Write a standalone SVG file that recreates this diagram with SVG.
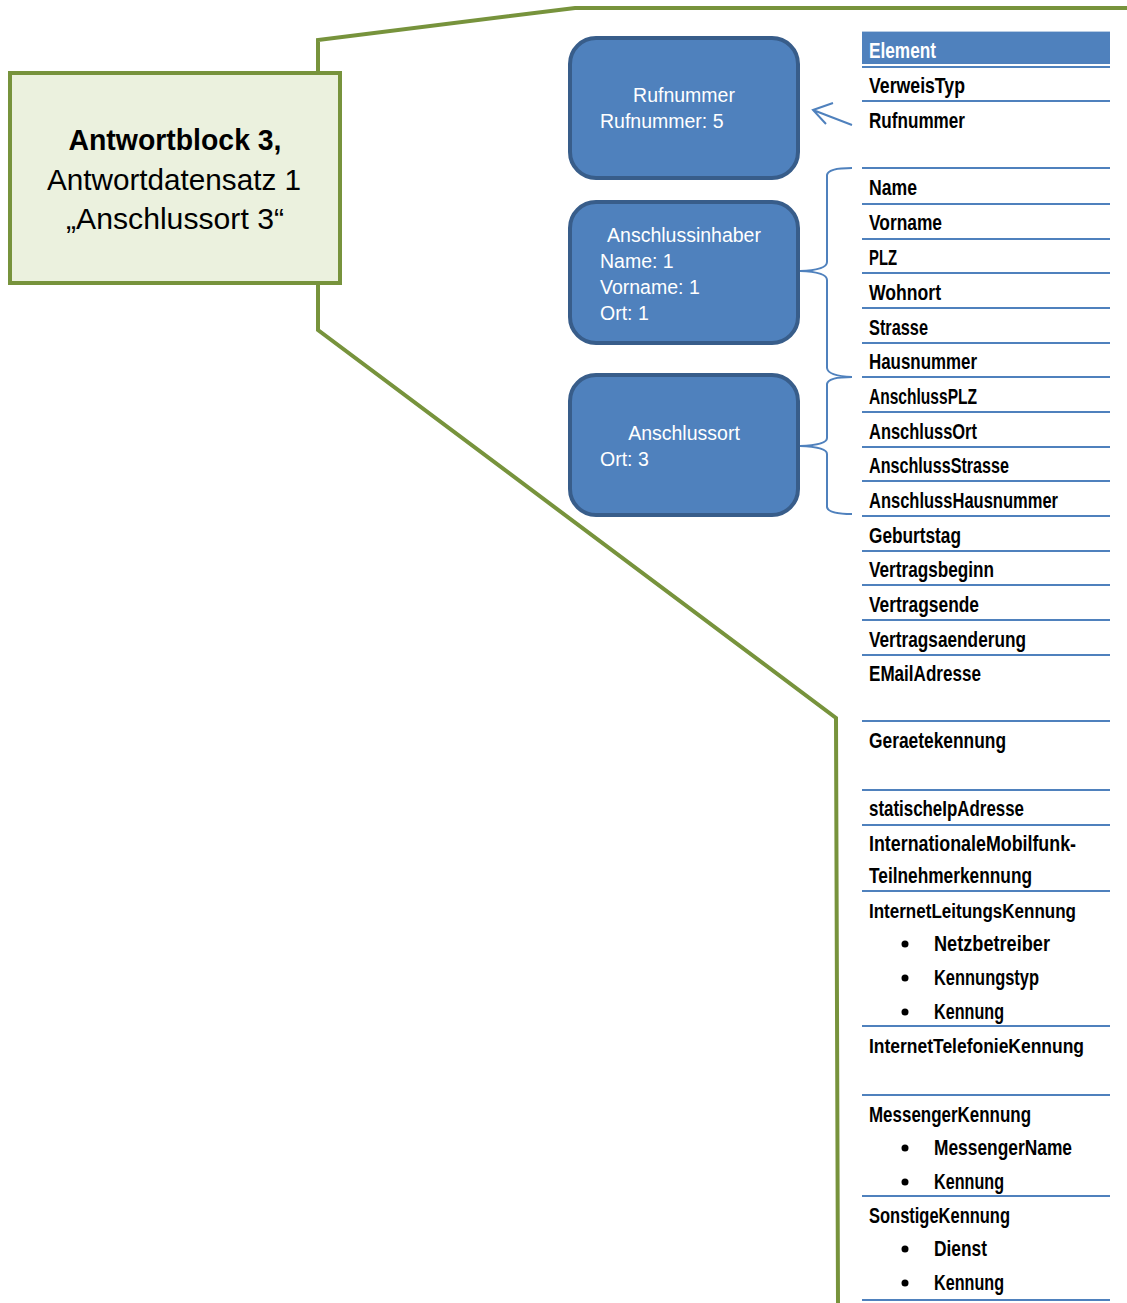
<svg xmlns="http://www.w3.org/2000/svg" width="1127" height="1303" viewBox="0 0 1127 1303">
  <style>
    .frame { fill: none; stroke: #77933C; stroke-width: 4; stroke-linejoin: miter; }
    .block { fill: #EBF1DE; stroke: #77933C; stroke-width: 4; }
    .blocktxt { font-family: "Liberation Sans", Arial, sans-serif; font-size: 29px; fill: #000; text-anchor: middle; }
    .node { fill: #4F81BD; stroke: #385D8A; stroke-width: 4; }
    .ntxt { font-family: "Liberation Sans", Arial, sans-serif; font-size: 19.5px; fill: #fff; }
    .mid { text-anchor: middle; }
    .brace { fill: none; stroke: #4F81BD; stroke-width: 2; }
    .rule { stroke: #4F81BD; stroke-width: 2; }
    .rule2 { stroke: #B8CCE4; stroke-width: 1; }
    .cell { font-family: "Liberation Sans", Arial, sans-serif; font-weight: bold; font-size: 21.5px; fill: #000; }
    .long { font-size: 20px; }
    .head { font-family: "Liberation Sans", Arial, sans-serif; font-weight: bold; font-size: 21.5px; fill: #fff; }
    .dot { fill: #000; }
  </style>

  <!-- zoom frame lines from the answer block to the element table -->
  <g id="connectors">
    <polyline class="frame" points="318,73 318,40 575,8 1127,8"/>
    <polyline class="frame" points="318,283 318,330 836,718 838,1303"/>
    <!-- brace for the holder fields -->
    <path class="brace" d="M852,168 Q828,168 827,175 L827,262 Q827,270 800,271 Q827,272 827,280 L827,368 Q828,376 852,377"/>
    <!-- brace for the location fields -->
    <path class="brace" d="M852,377 Q828,377 827,384 L827,438 Q827,445 800,446 Q827,447 827,454 L827,507 Q828,514 852,514"/>
    <!-- arrow to the phone number node -->
    <path class="brace" d="M852,125 L813,110 M833,103 L813,110 L826,124"/>
  </g>

  <g id="block">
    <rect class="block" x="10" y="73" width="330" height="210"/>
    <text class="blocktxt" x="175" y="150" font-weight="bold" textLength="213" lengthAdjust="spacingAndGlyphs">Antwortblock 3,</text>
    <text class="blocktxt" x="174" y="190" textLength="254" lengthAdjust="spacingAndGlyphs">Antwortdatensatz 1</text>
    <text class="blocktxt" x="175" y="229" textLength="218" lengthAdjust="spacingAndGlyphs">„Anschlussort 3“</text>
  </g>

  <g id="node-rufnummer">
    <rect class="node" x="570" y="38" width="228" height="140" rx="26"/>
    <text class="ntxt mid" x="684" y="102">Rufnummer</text>
    <text class="ntxt" x="600" y="128">Rufnummer: 5</text>
  </g>

  <g id="node-anschlussinhaber">
    <rect class="node" x="570" y="202" width="228" height="141" rx="26"/>
    <text class="ntxt mid" x="684" y="242">Anschlussinhaber</text>
    <text class="ntxt" x="600" y="268">Name: 1</text>
    <text class="ntxt" x="600" y="294">Vorname: 1</text>
    <text class="ntxt" x="600" y="320">Ort: 1</text>
  </g>

  <g id="node-anschlussort">
    <rect class="node" x="570" y="375" width="228" height="140" rx="26"/>
    <text class="ntxt mid" x="684" y="440">Anschlussort</text>
    <text class="ntxt" x="600" y="466">Ort: 3</text>
  </g>

  <g id="table">
    <rect x="862" y="31" width="248" height="33" fill="#4F81BD"/>
    <line class="rule2" x1="862" y1="31.5" x2="1110" y2="31.5"/>
    <text class="head" x="869" y="58" textLength="67" lengthAdjust="spacingAndGlyphs">Element</text>
    <g>
      <line class="rule" x1="862" y1="67" x2="1110" y2="67"/>
      <line class="rule" x1="862" y1="101" x2="1110" y2="101"/>
      <line class="rule" x1="862" y1="168" x2="1110" y2="168"/>
      <line class="rule" x1="862" y1="204" x2="1110" y2="204"/>
      <line class="rule" x1="862" y1="239" x2="1110" y2="239"/>
      <line class="rule" x1="862" y1="273" x2="1110" y2="273"/>
      <line class="rule" x1="862" y1="308" x2="1110" y2="308"/>
      <line class="rule" x1="862" y1="343" x2="1110" y2="343"/>
      <line class="rule" x1="862" y1="377" x2="1110" y2="377"/>
      <line class="rule" x1="862" y1="412" x2="1110" y2="412"/>
      <line class="rule" x1="862" y1="447" x2="1110" y2="447"/>
      <line class="rule" x1="862" y1="481" x2="1110" y2="481"/>
      <line class="rule" x1="862" y1="516" x2="1110" y2="516"/>
      <line class="rule" x1="862" y1="551" x2="1110" y2="551"/>
      <line class="rule" x1="862" y1="585" x2="1110" y2="585"/>
      <line class="rule" x1="862" y1="620" x2="1110" y2="620"/>
      <line class="rule" x1="862" y1="655" x2="1110" y2="655"/>
      <line class="rule" x1="862" y1="721" x2="1110" y2="721"/>
      <line class="rule" x1="862" y1="790" x2="1110" y2="790"/>
      <line class="rule" x1="862" y1="825" x2="1110" y2="825"/>
      <line class="rule" x1="862" y1="891" x2="1110" y2="891"/>
      <line class="rule" x1="862" y1="1026" x2="1110" y2="1026"/>
      <line class="rule" x1="862" y1="1095" x2="1110" y2="1095"/>
      <line class="rule" x1="862" y1="1196" x2="1110" y2="1196"/>
      <line class="rule" x1="862" y1="1300" x2="1110" y2="1300"/>
    </g>
    <text class="cell" x="869" y="93" textLength="96" lengthAdjust="spacingAndGlyphs">VerweisTyp</text>
    <text class="cell" x="869" y="128" textLength="96" lengthAdjust="spacingAndGlyphs">Rufnummer</text>
    <text class="cell" x="869" y="195" textLength="48" lengthAdjust="spacingAndGlyphs">Name</text>
    <text class="cell" x="869" y="230" textLength="73" lengthAdjust="spacingAndGlyphs">Vorname</text>
    <text class="cell" x="869" y="265" textLength="28" lengthAdjust="spacingAndGlyphs">PLZ</text>
    <text class="cell" x="869" y="300" textLength="72" lengthAdjust="spacingAndGlyphs">Wohnort</text>
    <text class="cell" x="869" y="335" textLength="59" lengthAdjust="spacingAndGlyphs">Strasse</text>
    <text class="cell" x="869" y="369" textLength="108" lengthAdjust="spacingAndGlyphs">Hausnummer</text>
    <text class="cell" x="869" y="404" textLength="108" lengthAdjust="spacingAndGlyphs">AnschlussPLZ</text>
    <text class="cell" x="869" y="439" textLength="108" lengthAdjust="spacingAndGlyphs">AnschlussOrt</text>
    <text class="cell" x="869" y="473" textLength="140" lengthAdjust="spacingAndGlyphs">AnschlussStrasse</text>
    <text class="cell" x="869" y="508" textLength="189" lengthAdjust="spacingAndGlyphs">AnschlussHausnummer</text>
    <text class="cell" x="869" y="543" textLength="92" lengthAdjust="spacingAndGlyphs">Geburtstag</text>
    <text class="cell" x="869" y="577" textLength="125" lengthAdjust="spacingAndGlyphs">Vertragsbeginn</text>
    <text class="cell" x="869" y="612" textLength="110" lengthAdjust="spacingAndGlyphs">Vertragsende</text>
    <text class="cell" x="869" y="647" textLength="157" lengthAdjust="spacingAndGlyphs">Vertragsaenderung</text>
    <text class="cell" x="869" y="681" textLength="112" lengthAdjust="spacingAndGlyphs">EMailAdresse</text>
    <text class="cell" x="869" y="748" textLength="137" lengthAdjust="spacingAndGlyphs">Geraetekennung</text>
    <text class="cell" x="869" y="816" textLength="155" lengthAdjust="spacingAndGlyphs">statischeIpAdresse</text>
    <text class="cell" x="869" y="851" textLength="207" lengthAdjust="spacingAndGlyphs">InternationaleMobilfunk-</text>
    <text class="cell" x="869" y="883" textLength="163" lengthAdjust="spacingAndGlyphs">Teilnehmerkennung</text>
    <text class="cell long" x="869" y="918" textLength="207" lengthAdjust="spacingAndGlyphs">InternetLeitungsKennung</text>
    <circle class="dot" cx="905" cy="944" r="3.5"/>
    <text class="cell" x="934" y="951" textLength="116" lengthAdjust="spacingAndGlyphs">Netzbetreiber</text>
    <circle class="dot" cx="905" cy="978" r="3.5"/>
    <text class="cell" x="934" y="985" textLength="105" lengthAdjust="spacingAndGlyphs">Kennungstyp</text>
    <circle class="dot" cx="905" cy="1012" r="3.5"/>
    <text class="cell" x="934" y="1019" textLength="70" lengthAdjust="spacingAndGlyphs">Kennung</text>
    <text class="cell long" x="869" y="1053" textLength="215" lengthAdjust="spacingAndGlyphs">InternetTelefonieKennung</text>
    <text class="cell" x="869" y="1122" textLength="162" lengthAdjust="spacingAndGlyphs">MessengerKennung</text>
    <circle class="dot" cx="905" cy="1148" r="3.5"/>
    <text class="cell" x="934" y="1155" textLength="138" lengthAdjust="spacingAndGlyphs">MessengerName</text>
    <circle class="dot" cx="905" cy="1182" r="3.5"/>
    <text class="cell" x="934" y="1189" textLength="70" lengthAdjust="spacingAndGlyphs">Kennung</text>
    <text class="cell" x="869" y="1223" textLength="141" lengthAdjust="spacingAndGlyphs">SonstigeKennung</text>
    <circle class="dot" cx="905" cy="1249" r="3.5"/>
    <text class="cell" x="934" y="1256" textLength="53" lengthAdjust="spacingAndGlyphs">Dienst</text>
    <circle class="dot" cx="905" cy="1283" r="3.5"/>
    <text class="cell" x="934" y="1290" textLength="70" lengthAdjust="spacingAndGlyphs">Kennung</text>
  </g>
</svg>
